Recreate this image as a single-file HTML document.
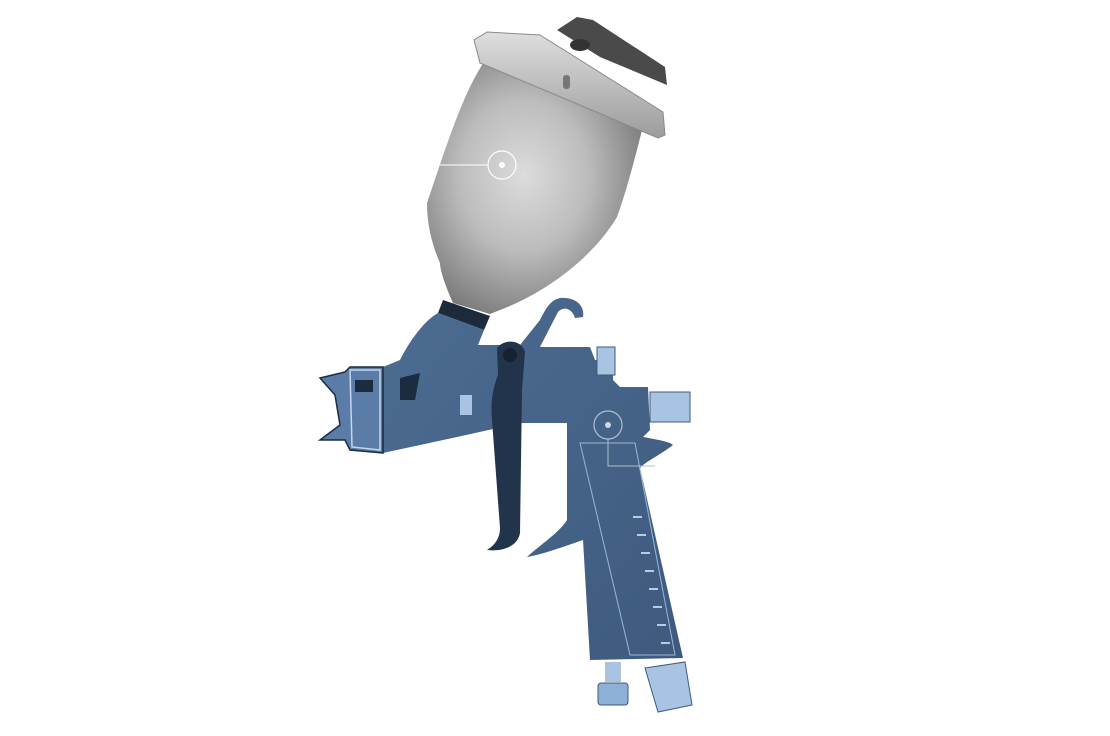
<!DOCTYPE html>
<html><head><meta charset="utf-8"><style>
html,body{margin:0;padding:0;background:#fff;width:1110px;height:736px;overflow:hidden}
</style></head><body>
<svg width="1110" height="736" viewBox="0 0 1110 736" xmlns="http://www.w3.org/2000/svg">
<defs>
<radialGradient id="cupg" cx="0.45" cy="0.45" r="0.6">
<stop offset="0" stop-color="#dcdcdc"/><stop offset="0.5" stop-color="#bcbcbc"/><stop offset="1" stop-color="#7a7a7a"/>
</radialGradient>
<linearGradient id="lidg" x1="0" y1="0" x2="0" y2="1">
<stop offset="0" stop-color="#dedede"/><stop offset="1" stop-color="#9c9c9c"/>
</linearGradient>
<linearGradient id="blue" x1="0" y1="0" x2="1" y2="1">
<stop offset="0" stop-color="#4d6c92"/><stop offset="1" stop-color="#3e5a7e"/>
</linearGradient>
</defs>
<path d="M484,62 L642,130 C632,170 625,195 617,217 C590,262 540,295 500,310 L490,314 L453,303 C445,285 440,270 440,263 C430,240 427,220 427,203 C445,150 462,95 484,62 Z" fill="url(#cupg)"/>
<polygon points="487,32 540,35 663,112 665,135 658,138 480,63 474,40" fill="url(#lidg)" stroke="#8a8a8a" stroke-width="1"/>
<rect x="563" y="75" width="7" height="14" rx="3" fill="#777"/>
<polygon points="557,30 577,17 593,20 665,67 667,85 600,57" fill="#4a4a4a"/>
<ellipse cx="580" cy="45" rx="10" ry="6" fill="#333"/>
<line x1="440" y1="165" x2="488" y2="165" stroke="#fff" stroke-width="1"/>
<circle cx="502" cy="165" r="14" fill="none" stroke="#fff" stroke-width="1.2"/>
<circle cx="502" cy="165" r="3" fill="#fff"/>
<polygon points="443,300 490,316 484,330 438,313" fill="#1c2a3c"/>
<path d="M438,313 L484,330 L478,345 L520,345 L540,320 C545,310 550,300 560,298 C575,297 585,305 583,317 L575,318 C572,308 563,306 558,312 L540,347 L590,347 L595,360 L613,360 L613,380 L620,387 L648,387 L650,430 L643,437 C660,440 670,442 673,445 C660,455 645,462 640,468 L683,658 L590,660 L583,540 C560,548 540,555 527,557 C540,545 560,532 567,520 L567,423 L520,423 L457,437 L383,453 L383,367 L400,360 C410,340 425,320 438,313 Z" fill="url(#blue)"/>
<path d="M320,378 L345,372 L350,367 L383,367 L383,453 L350,450 L345,440 L320,440 L340,425 L335,395 Z" fill="#5b7ca6" stroke="#1b2b40" stroke-width="1.5"/>
<path d="M350,370 L380,370 L380,450 L352,447 Z" fill="none" stroke="#c2d6ee" stroke-width="1.5"/>
<rect x="355" y="380" width="18" height="12" fill="#1b2b40"/>
<path d="M400,378 L420,373 L415,400 L400,400 Z" fill="#1b2b40"/>
<rect x="460" y="395" width="12" height="20" fill="#a9c4e2"/>
<rect x="597" y="347" width="18" height="28" fill="#a9c4e2" stroke="#3e5a7e"/>
<rect x="650" y="392" width="40" height="30" fill="#a9c4e2" stroke="#3e5a7e"/>
<path d="M580,443 L635,443 L675,655 L630,655 Z" fill="none" stroke="#9bb6d6" stroke-width="1"/>
<g stroke="#b7cde6" stroke-width="2">
<line x1="633" y1="517" x2="642" y2="517"/><line x1="637" y1="535" x2="646" y2="535"/><line x1="641" y1="553" x2="650" y2="553"/>
<line x1="645" y1="571" x2="654" y2="571"/><line x1="649" y1="589" x2="658" y2="589"/><line x1="653" y1="607" x2="662" y2="607"/>
<line x1="657" y1="625" x2="666" y2="625"/><line x1="661" y1="643" x2="670" y2="643"/>
</g>
<path d="M497,348 C505,338 522,340 525,352 L522,390 L520,533 C518,545 505,552 487,550 C495,545 500,538 500,528 L492,420 C490,400 494,385 498,375 Z" fill="#22344c"/>
<circle cx="510" cy="355" r="7" fill="#16222f"/>
<circle cx="608" cy="425" r="14" fill="none" stroke="#b0c0d0" stroke-width="1.2"/>
<circle cx="608" cy="425" r="3" fill="#d0d8e0"/>
<polyline points="608,439 608,466 655,466" fill="none" stroke="#b0c0d0" stroke-width="1"/>
<rect x="605" y="662" width="16" height="20" fill="#a9c4e2"/>
<rect x="598" y="683" width="30" height="22" rx="3" fill="#8fb0d6" stroke="#3e5a7e"/>
<polygon points="645,668 685,662 692,705 658,712" fill="#a9c4e2" stroke="#3e5a7e"/>
</svg>
</body></html>
